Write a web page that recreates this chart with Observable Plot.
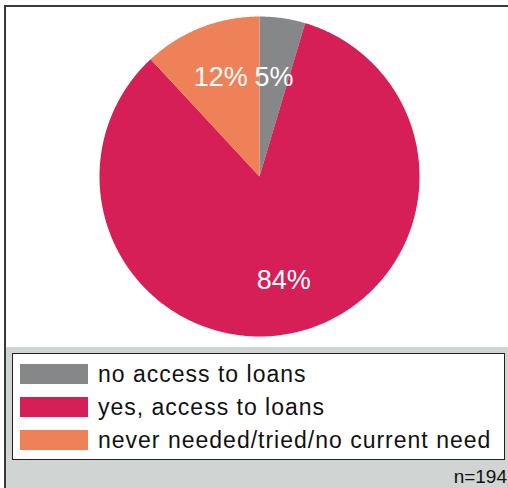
<!DOCTYPE html>
<html>
<head>
<meta charset="utf-8">
<script src="https://cdn.jsdelivr.net/npm/d3@7"></script>
<script src="https://cdn.jsdelivr.net/npm/@observablehq/plot@0.6"></script>
<style>
  html, body { margin: 0; padding: 0; background: #ffffff; }
  body { width: 508px; height: 488px; overflow: hidden; position: relative; font-family: "Liberation Sans", Arial, sans-serif; }
  #frame { position: absolute; left: 4px; top: 5px; width: 504px; height: 483px; border-top: 2px solid #3a3a3a; border-left: 2px solid #3a3a3a; box-sizing: border-box; background: #d0d4d2; }
  #panel { position: absolute; left: 0; top: 0; width: 502px; height: 340px; background: #ffffff; }
  #legend { position: absolute; left: 6px; top: 346px; width: 493px; height: 107px; background: #ffffff; border: 1px solid #222; box-sizing: border-box; }
  .item { position: absolute; left: 7px; height: 20px; }
  .sw { position: absolute; left: 0; top: 0; width: 68px; height: 20px; }
  .lab { position: absolute; left: 78px; top: -2px; font-size: 23px; letter-spacing: 1px; color: #111; white-space: nowrap; line-height: 24px; }
  #n { position: absolute; right: 1px; top: 459px; font-size: 19px; color: #111; line-height: 22px; }
</style>
</head>
<body>
<div id="frame">
  <div id="panel"></div>
  <div id="legend"></div>
  <div id="n"></div>
</div>
<script>
const categories = ["no access to loans", "yes, access to loans", "never needed/tried/no current need"];
const values = [4.6, 83.5, 11.9];
const labels = ["5%", "84%", "12%"];
const colors = ["#868788", "#d51f56", "#ef8159"];
const sampleNote = "n=194";

// slice polygons from d3.pie angles (clockwise from 12 o'clock)
const arcs = d3.pie().sort(null).value(d => d)(values);
const poly = [];
const labelPts = [];
arcs.forEach((a, i) => {
  const steps = Math.max(4, Math.ceil((a.endAngle - a.startAngle) / 0.01));
  poly.push({cat: categories[i], x: 0, y: 0});
  for (let k = 0; k <= steps; k++) {
    const t = a.startAngle + (a.endAngle - a.startAngle) * k / steps;
    poly.push({cat: categories[i], x: Math.sin(t), y: Math.cos(t)});
  }
  poly.push({cat: categories[i], x: 0, y: 0});
});
// label positions (fraction of radius along mid-angle)
const labelR = [0.626, 0.666, 0.665];
arcs.forEach((a, i) => {
  const m = (a.startAngle + a.endAngle) / 2;
  labelPts.push({text: labels[i], x: Math.sin(m) * labelR[i], y: Math.cos(m) * labelR[i]});
});

const W = 502, H = 340, R = 160, cx = 253, cy = 169;
const chart = Plot.plot({
  width: W,
  height: H,
  margin: 0,
  style: {background: "transparent", overflow: "visible"},
  x: {domain: [-cx / R, (W - cx) / R], axis: null},
  y: {domain: [-(H - cy) / R, cy / R], axis: null},
  color: {domain: categories, range: colors},
  marks: [
    Plot.line(poly, {x: "x", y: "y", z: "cat", fill: "cat", stroke: "none", curve: "linear"}),
    Plot.text(labelPts, {x: "x", y: "y", text: "text", fill: "white", fontSize: 27, fontFamily: "Liberation Sans, Arial, sans-serif"})
  ]
});
document.getElementById("panel").appendChild(chart);

const leg = document.getElementById("legend");
categories.forEach((c, i) => {
  const it = document.createElement("div");
  it.className = "item";
  it.style.top = (10 + i * 33) + "px";
  it.innerHTML = `<div class="sw" style="background:${colors[i]}"></div><div class="lab">${c}</div>`;
  leg.appendChild(it);
});
document.getElementById("n").textContent = sampleNote;
</script>
</body>
</html>
